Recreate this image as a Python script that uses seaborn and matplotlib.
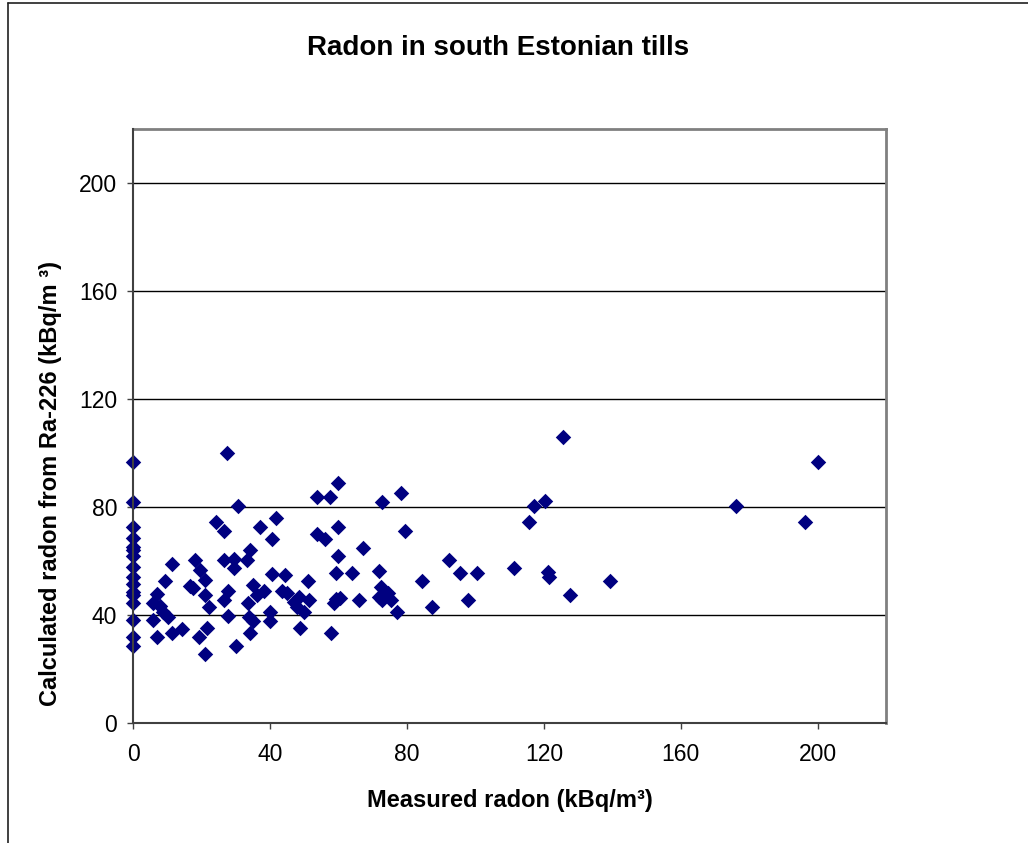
import matplotlib
matplotlib.use("Agg")
import matplotlib.pyplot as plt
from matplotlib.lines import Line2D
import seaborn as sns
import pandas as pd

# ---- data ----
measured = [
    0, 0, 0, 0, 0, 0, 0, 0, 0, 0, 0, 0, 0, 0, 0, 0,
    27.5, 30.7, 24.2, 26.5, 37.1, 41.8, 40.6, 34.0, 26.5, 29.5, 33.2, 29.3,
    18.0, 11.2, 19.5, 21.0, 9.2, 16.6, 17.4, 21.0, 6.8, 5.8, 7.8, 8.7, 10.2,
    5.8, 22.2, 11.2, 14.1, 6.8, 21.6, 19.3, 21.0, 30.1, 27.8, 34.0, 33.7,
    35.1, 26.5, 27.8, 33.4, 35.0, 36.1, 38.3, 40.4, 44.4, 43.5, 44.9, 40.0,
    40.0, 48.8, 48.3, 46.9, 47.9, 49.8, 51.3, 51.1,
    53.7, 53.7, 59.8, 57.4, 72.8, 78.2, 55.9, 59.8, 79.4, 67.2, 59.8, 59.1,
    64.0, 71.8, 92.3, 95.5, 100.4, 84.5, 59.1, 60.3, 58.8, 65.9, 72.3, 74.3,
    71.8, 72.6, 75.2, 77.0, 87.4, 97.9, 57.8,
    125.7, 200.0, 117.1, 120.2, 176.1, 115.8, 196.4, 111.4, 121.2, 121.4,
    139.2, 127.5,
]
calculated = [
    96.8, 82.1, 72.8, 68.6, 65.4, 64.0, 62.1, 57.8, 54.1, 51.7, 48.6, 47.4,
    44.4, 38.2, 32.1, 28.7,
    99.9, 80.5, 74.7, 71.3, 72.8, 76.0, 68.3, 64.0, 60.5, 60.9, 60.3, 57.6,
    60.5, 59.1, 56.6, 52.9, 52.7, 50.7, 50.2, 47.4, 48.0, 44.4, 43.4, 41.3,
    39.4, 38.2, 42.9, 33.6, 34.8, 31.9, 35.2, 31.9, 25.7, 28.8, 39.7, 33.3,
    39.4, 38.0, 45.6, 49.0, 44.6, 51.1, 47.4, 49.0, 55.4, 54.8, 49.0, 48.4,
    41.3, 38.0, 35.2, 46.8, 45.0, 43.1, 41.3, 45.6, 52.7,
    83.8, 69.9, 89.1, 83.6, 82.1, 85.2, 68.3, 72.8, 71.3, 65.0, 62.1, 55.8,
    55.8, 56.5, 60.5, 55.8, 55.8, 52.7, 45.9, 46.2, 44.4, 45.8, 50.5, 48.3,
    46.8, 45.8, 45.8, 41.3, 42.9, 45.8, 33.6,
    106.0, 96.8, 80.5, 82.4, 80.5, 74.4, 74.4, 57.5, 56.0, 54.2,
    52.7, 47.4,
]
tick_values = [0, 40, 80, 120, 160, 200]
tick_labels = ["0", "40", "80", "120", "160", "200"]

title_text = "Radon in south Estonian tills"
xlabel_text = "Measured radon (kBq/m\u00b3)"
ylabel_text = "Calculated radon from Ra-226 (kBq/m \u00b3)"

df = pd.DataFrame({"measured": measured, "calculated": calculated})

sns.set_theme(style="white")
plt.rcParams["font.family"] = ["Liberation Sans", "DejaVu Sans"]

W, H = 1028, 843
fig = plt.figure(figsize=(W / 100, H / 100), dpi=100)
fig.patch.set_facecolor("white")

left_px, right_px, top_px, bottom_px = 133.3, 886.0, 129.0, 723.3
ax = fig.add_axes([left_px / W, 1 - bottom_px / H,
                   (right_px - left_px) / W, (bottom_px - top_px) / H])
ax.set_facecolor("white")

sns.scatterplot(data=df, x="measured", y="calculated", ax=ax,
                marker="D", s=62, color="#000080", linewidth=0,
                zorder=3, clip_on=False, legend=False)

ax.set_xlim(0, 220)
ax.set_ylim(0, 220)
ax.set_xticks(tick_values)
ax.set_xticklabels(tick_labels)
ax.set_yticks(tick_values)
ax.set_yticklabels(tick_labels)

for v in tick_values[1:]:
    ax.axhline(v, color="black", linewidth=1.0, zorder=1)

ax.set_xlabel("")
ax.set_ylabel("")

for side in ["top", "right"]:
    ax.spines[side].set_visible(True)
    ax.spines[side].set_color("#808080")
    ax.spines[side].set_linewidth(2.0)
for side in ["left", "bottom"]:
    ax.spines[side].set_visible(True)
    ax.spines[side].set_color("#404040")
    ax.spines[side].set_linewidth(1.5)
    ax.spines[side].set_zorder(4)

ax.tick_params(axis="both", which="major", direction="out", length=4.5,
               width=1.0, color="#404040", labelsize=16.5, labelcolor="black",
               bottom=True, left=True)
ax.tick_params(axis="y", pad=7)
ax.tick_params(axis="x", pad=10)

fig.text(498 / W, 1 - 48 / H, title_text, ha="center", va="center",
         fontsize=20, fontweight="bold", color="black")
fig.text(510 / W, 1 - 800 / H, xlabel_text, ha="center", va="center",
         fontsize=17, fontweight="bold", color="black")
fig.text(51 / W, 1 - 484 / H, ylabel_text, ha="center", va="center",
         rotation=90, fontsize=17, fontweight="bold", color="black")

# outer chart-area border (left and top edges visible in the reference)
fig.add_artist(Line2D([8 / W, 8 / W], [0, 1 - 3 / H], transform=fig.transFigure,
                      color="#202020", linewidth=1.2))
fig.add_artist(Line2D([8 / W, 1], [1 - 3 / H, 1 - 3 / H], transform=fig.transFigure,
                      color="#202020", linewidth=1.2))

fig.savefig("out.png", dpi=100, facecolor="white")
